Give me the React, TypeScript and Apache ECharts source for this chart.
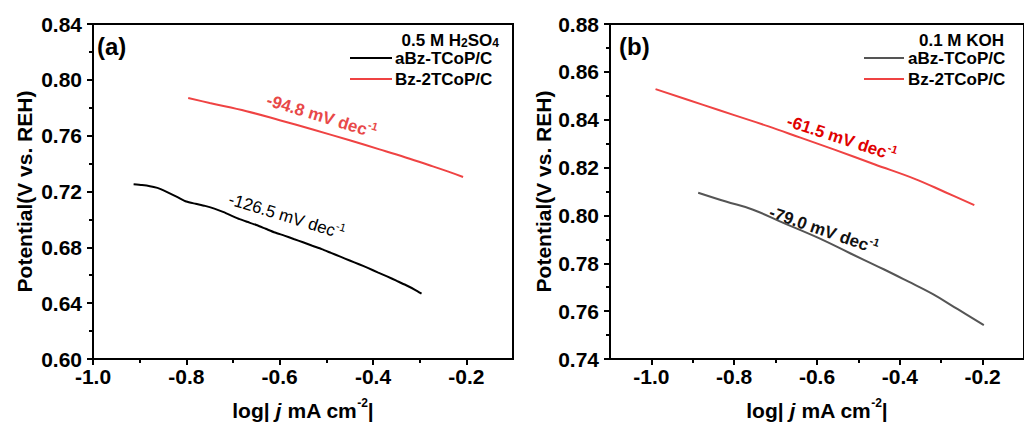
import React, { useEffect, useRef } from "react";
import * as echarts from "echarts";

// ---- data ----
const aBlackA: [number, number][] = [
  [-0.913, 0.7252], [-0.895, 0.7246], [-0.878, 0.7238], [-0.862, 0.7226], [-0.855, 0.7217],
  [-0.84, 0.7194], [-0.82, 0.7162], [-0.8, 0.7128], [-0.78, 0.7112], [-0.76, 0.7097],
  [-0.74, 0.7077], [-0.72, 0.7052], [-0.7, 0.7022], [-0.686, 0.7002], [-0.67, 0.6983],
  [-0.65, 0.696], [-0.63, 0.6933], [-0.61, 0.6906], [-0.59, 0.6884], [-0.57, 0.686],
  [-0.55, 0.6836], [-0.53, 0.6811], [-0.51, 0.6787], [-0.49, 0.676], [-0.47, 0.6733],
  [-0.45, 0.6706], [-0.43, 0.6679], [-0.41, 0.6651], [-0.39, 0.6621], [-0.37, 0.6592],
  [-0.35, 0.6561], [-0.33, 0.653], [-0.31, 0.6496], [-0.296, 0.6468],
];
const aRedA: [number, number][] = [
  [-0.796, 0.787], [-0.75, 0.7834], [-0.671, 0.7775], [-0.6, 0.7711], [-0.529, 0.7644],
  [-0.45, 0.7567], [-0.386, 0.7502], [-0.33, 0.7444], [-0.279, 0.7388], [-0.24, 0.7344],
  [-0.207, 0.7304],
];
const bGrayB: [number, number][] = [
  [-0.887, 0.8095], [-0.82, 0.8058], [-0.756, 0.8025], [-0.68, 0.7968], [-0.598, 0.7907],
  [-0.52, 0.7842], [-0.439, 0.7775], [-0.38, 0.7724], [-0.32, 0.7671], [-0.26, 0.7608],
  [-0.197, 0.7542],
];
const bRedB: [number, number][] = [
  [-0.99, 0.8528], [-0.875, 0.8462], [-0.8, 0.8419], [-0.717, 0.8372], [-0.64, 0.8325],
  [-0.558, 0.8275], [-0.46, 0.8213], [-0.364, 0.8153], [-0.29, 0.8097], [-0.22, 0.8043],
];

const xMajorTicks = [-1.0, -0.8, -0.6, -0.4, -0.2];
const xMinorTicks = [-0.9, -0.7, -0.5, -0.3];
const seriesNames = ["aBz-TCoP/C", "Bz-2TCoP/C"];
const slopeLabelsA = ["-126.5 mV dec", "-94.8 mV dec"];
const slopeLabelsB = ["-79.0 mV dec", "-61.5 mV dec"];

const FONT = "'Liberation Sans', Arial, Helvetica, sans-serif";
const RED = "#ef4343";
const GRAY = "#555555";

function xMajor(gridIndex: number, min: number, max: number) {
  return {
    type: "value",
    gridIndex,
    position: "bottom",
    min,
    max,
    axisLine: { show: true, onZero: false, lineStyle: { color: "#000", width: 2 } },
    axisTick: { show: true, customValues: xMajorTicks, length: 6, lineStyle: { color: "#000", width: 2 } },
    axisLabel: {
      customValues: xMajorTicks,
      formatter: (v: number) => v.toFixed(1),
      color: "#000",
      fontSize: 21,
      fontWeight: "bold",
      fontFamily: FONT,
      margin: 7,
    },
    splitLine: { show: false },
    name: "{n|log| }{i|j}{n| mA cm}{s|-2}{n||}",
    nameLocation: "middle",
    nameGap: 38,
    nameTextStyle: {
      fontFamily: FONT,
      color: "#000",
      rich: {
        n: { fontSize: 21, fontWeight: "bold", fontFamily: FONT, color: "#000", lineHeight: 24, verticalAlign: "bottom" },
        i: { fontSize: 21, fontWeight: "bold", fontStyle: "italic", fontFamily: FONT, color: "#000", lineHeight: 24, verticalAlign: "bottom" },
        s: { fontSize: 12, fontWeight: "bold", fontFamily: FONT, color: "#000", lineHeight: 12, verticalAlign: "top" },
      },
    },
  };
}

function xMinor(gridIndex: number, min: number, max: number) {
  return {
    type: "value",
    gridIndex,
    position: "bottom",
    min,
    max,
    axisLine: { show: false, onZero: false },
    axisTick: { show: true, customValues: xMinorTicks, length: 4, lineStyle: { color: "#000", width: 2 } },
    axisLabel: { show: false },
    splitLine: { show: false },
  };
}

function yAxis(gridIndex: number, min: number, max: number, interval: number, gap: number) {
  return {
    type: "value",
    gridIndex,
    min,
    max,
    interval,
    axisLine: { show: true, onZero: false, lineStyle: { color: "#000", width: 2 } },
    axisTick: { show: true, length: 6, lineStyle: { color: "#000", width: 2 } },
    minorTick: { show: true, splitNumber: 2, length: 4, lineStyle: { color: "#000", width: 2 } },
    axisLabel: {
      formatter: (v: number) => v.toFixed(2),
      color: "#000",
      fontSize: 21,
      fontWeight: "bold",
      fontFamily: FONT,
      margin: 11,
    },
    splitLine: { show: false },
    minorSplitLine: { show: false },
    name: "Potential(V vs. REH)",
    nameLocation: "middle",
    nameGap: gap,
    nameTextStyle: { fontSize: 21, fontWeight: "bold", fontFamily: FONT, color: "#000" },
  };
}

function slopeText(x: number, y: number, deg: number, text: string, color: string, weight: string) {
  return {
    type: "text",
    x,
    y,
    rotation: (-deg * Math.PI) / 180,
    style: {
      text: `{n|${text}}{s|-1}`,
      rich: {
        n: { fontSize: 17, fontWeight: weight, fontFamily: FONT, fill: color, lineHeight: 20, verticalAlign: "bottom" },
        s: { fontSize: 11, fontWeight: weight, fontFamily: FONT, fill: color, lineHeight: 11, verticalAlign: "top" },
      },
      align: "center",
      verticalAlign: "middle",
      fill: color,
    },
  };
}

function legendBlock(rightX: number, lineX1: number, lineX2: number, textX: number, titleRich: string, colors: string[]) {
  const els: any[] = [
    {
      type: "text",
      x: rightX,
      y: 38,
      style: {
        text: titleRich,
        align: "right",
        verticalAlign: "middle",
        rich: {
          n: { fontSize: 17, fontWeight: "bold", fontFamily: FONT, fill: "#000", lineHeight: 22, verticalAlign: "bottom" },
          s: { fontSize: 12, fontWeight: "bold", fontFamily: FONT, fill: "#000", lineHeight: 12, verticalAlign: "bottom" },
        },
      },
    },
  ];
  const ys = [58, 79];
  seriesNames.forEach((nm, i) => {
    els.push({
      type: "line",
      shape: { x1: lineX1, y1: ys[i], x2: lineX2, y2: ys[i] },
      style: { stroke: colors[i], lineWidth: 2 },
    });
    els.push({
      type: "text",
      x: textX,
      y: ys[i],
      style: {
        text: nm,
        fontSize: 17,
        fontWeight: "bold",
        fontFamily: FONT,
        fill: "#000",
        align: "left",
        verticalAlign: "middle",
      },
    });
  });
  return els;
}

export default function App() {
  const ref = useRef<HTMLDivElement>(null);
  useEffect(() => {
    if (!ref.current) return;
    const chart = echarts.init(ref.current, null, { renderer: "svg" });
    const option: any = {
      animation: false,
      backgroundColor: "#fff",
      grid: [
        { left: 93, top: 24, width: 420, height: 337, show: true, borderColor: "#000", borderWidth: 2, backgroundColor: "transparent", containLabel: false },
        { left: 610, top: 24, width: 420, height: 337, show: true, borderColor: "#000", borderWidth: 2, backgroundColor: "transparent", containLabel: false },
      ],
      xAxis: [xMajor(0, -1.0, -0.1), xMinor(0, -1.0, -0.1), xMajor(1, -1.1, -0.1), xMinor(1, -1.1, -0.1)],
      yAxis: [yAxis(0, 0.6, 0.84, 0.04, 58), yAxis(1, 0.74, 0.88, 0.02, 55)],
      series: [
        { name: seriesNames[0], type: "line", xAxisIndex: 0, yAxisIndex: 0, data: aBlackA, showSymbol: false, smooth: 0.2, lineStyle: { color: "#000", width: 2 }, itemStyle: { color: "#000" } },
        { name: seriesNames[1], type: "line", xAxisIndex: 0, yAxisIndex: 0, data: aRedA, showSymbol: false, smooth: 0.4, lineStyle: { color: RED, width: 2 }, itemStyle: { color: RED } },
        { name: seriesNames[0], type: "line", xAxisIndex: 2, yAxisIndex: 1, data: bGrayB, showSymbol: false, smooth: 0.4, lineStyle: { color: GRAY, width: 2 }, itemStyle: { color: GRAY } },
        { name: seriesNames[1], type: "line", xAxisIndex: 2, yAxisIndex: 1, data: bRedB, showSymbol: false, smooth: 0.4, lineStyle: { color: RED, width: 2 }, itemStyle: { color: RED } },
      ],
      graphic: [
        { type: "text", x: 97, y: 46, style: { text: "(a)", fontSize: 24, fontWeight: "bold", fontFamily: FONT, fill: "#000", verticalAlign: "middle" } },
        { type: "text", x: 619, y: 46, style: { text: "(b)", fontSize: 24, fontWeight: "bold", fontFamily: FONT, fill: "#000", verticalAlign: "middle" } },
        ...legendBlock(499, 350, 392, 395, "{n|0.5 M H}{s|2}{n|SO}{s|4}", ["#000", RED]),
        ...legendBlock(1004, 864, 904, 908, "{n|0.1 M KOH}", [GRAY, RED]),
        slopeText(287, 215, 17, slopeLabelsA[0], "#000", "normal"),
        slopeText(322, 115, 17, slopeLabelsA[1], "#e84848", "bold"),
        slopeText(824, 229, 19, slopeLabelsB[0], "#111", "bold"),
        slopeText(842, 137, 18, slopeLabelsB[1], "#e00000", "bold"),
      ],
    };
    chart.setOption(option);
    return () => chart.dispose();
  }, []);
  return <div ref={ref} style={{ position: "absolute", left: 0, top: 0, width: 1024, height: 426 }} />;
}
